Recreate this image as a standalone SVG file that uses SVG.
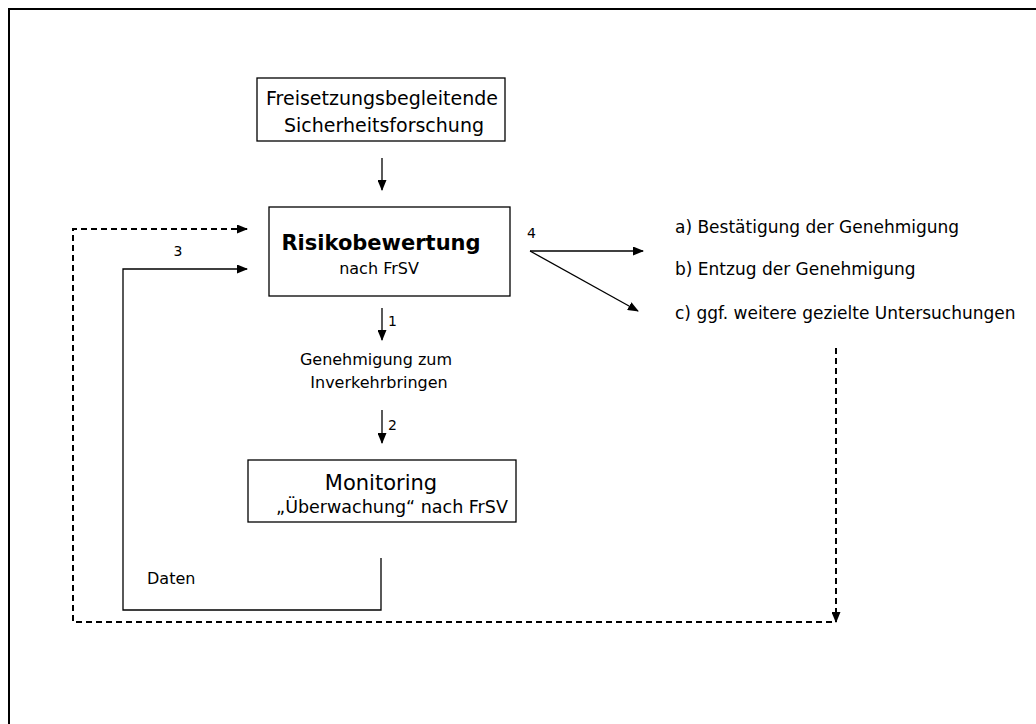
<svg xmlns="http://www.w3.org/2000/svg" width="1036" height="724" viewBox="0 0 1036 724">
<defs>
<marker id="ah" markerWidth="11" markerHeight="9" refX="10" refY="4.5" orient="auto" markerUnits="userSpaceOnUse"><path d="M0,0 L11,4.5 L0,9 Z" fill="#000"/></marker>
<style>
.t{font-family:"DejaVu Sans","Liberation Sans",sans-serif;fill:#000}
.box{fill:#fff;stroke:#000;stroke-width:1.3}
.ln{fill:none;stroke:#000;stroke-width:1.3}
.ds{fill:none;stroke:#000;stroke-width:2;stroke-dasharray:6,4}
</style>
</defs>
<rect width="1036" height="724" fill="#fff"/>
<path d="M9,724 V9 H1036" fill="none" stroke="#000" stroke-width="2"/>
<g id="connectors">
<line class="ln" x1="382" y1="158" x2="382" y2="190" marker-end="url(#ah)"/>
<line class="ln" x1="382" y1="308" x2="382" y2="340" marker-end="url(#ah)"/>
<line class="ln" x1="382" y1="410" x2="382" y2="443" marker-end="url(#ah)"/>
<path class="ln" d="M381,558 V610 H123 V269 H247" marker-end="url(#ah)"/>
<path class="ds" d="M832,622 H73 V229 H247" marker-end="url(#ah)"/>
<path class="ds" d="M836,348 V622" marker-end="url(#ah)"/>
<line class="ln" x1="530" y1="251" x2="643" y2="251" marker-end="url(#ah)"/>
<line class="ln" x1="530" y1="251" x2="638" y2="311" marker-end="url(#ah)"/>
<text class="t" x="178" y="256" font-size="14" text-anchor="middle">3</text>
<text class="t" x="388" y="326" font-size="14">1</text>
<text class="t" x="388" y="430" font-size="14">2</text>
<text class="t" x="527" y="238" font-size="14">4</text>
<text class="t" x="147" y="584" font-size="16">Daten</text>
</g>
<g id="n-forschung">
<rect class="box" x="257" y="78" width="248" height="63"/>
<text class="t" x="382" y="105" font-size="19" text-anchor="middle">Freisetzungsbegleitende</text>
<text class="t" x="384" y="132" font-size="19" text-anchor="middle">Sicherheitsforschung</text>
</g>
<g id="n-risiko">
<rect class="box" x="269" y="207" width="241" height="89"/>
<text class="t" x="381" y="250" font-size="21" font-weight="bold" text-anchor="middle">Risikobewertung</text>
<text class="t" x="379" y="274" font-size="16" text-anchor="middle">nach FrSV</text>
</g>
<g id="n-genehmigung">
<text class="t" x="376" y="365" font-size="16" text-anchor="middle">Genehmigung zum</text>
<text class="t" x="379" y="388" font-size="16" text-anchor="middle">Inverkehrbringen</text>
</g>
<g id="n-monitoring">
<rect class="box" x="248" y="460" width="268" height="62"/>
<text class="t" x="381" y="490" font-size="21" text-anchor="middle">Monitoring</text>
<text class="t" x="392" y="513" font-size="17.5" text-anchor="middle">„Überwachung“ nach FrSV</text>
</g>
<g id="n-outcomes">
<text class="t" x="675" y="233" font-size="17">a) Bestätigung der Genehmigung</text>
<text class="t" x="675" y="275" font-size="17">b) Entzug der Genehmigung</text>
<text class="t" x="675" y="319" font-size="17">c) ggf. weitere gezielte Untersuchungen</text>
</g>
</svg>
